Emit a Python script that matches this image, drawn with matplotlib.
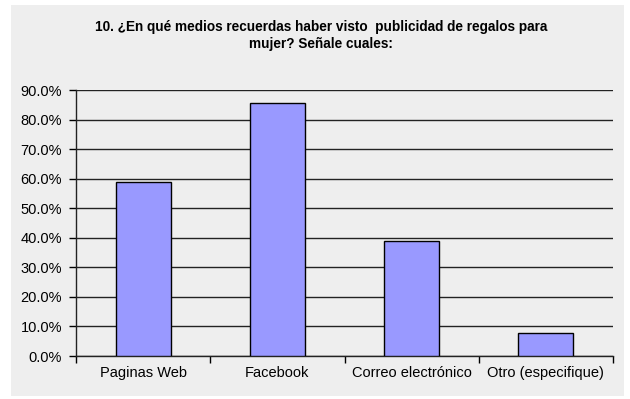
import matplotlib
matplotlib.use("Agg")
from matplotlib import pyplot as plt
from matplotlib.patches import Rectangle
from matplotlib.ticker import FuncFormatter

categories = ["Paginas Web", "Facebook", "Correo electrónico", "Otro (especifique)"]
values = [58.9, 85.6, 38.9, 7.8]
title = "10. ¿En qué medios recuerdas haber visto  publicidad de regalos para\nmujer? Señale cuales:"

plt.rcParams['font.family'] = ['Liberation Sans', 'DejaVu Sans']

fig = plt.figure(figsize=(6.3, 3.99), dpi=100)
fig.patch.set_facecolor('white')
fig.patches.append(Rectangle((11 / 630, 1 - 396 / 399), 613 / 630, 391 / 399,
                             transform=fig.transFigure, facecolor='#eeeeee',
                             edgecolor='none', zorder=-10))

ax = fig.add_axes([76 / 630, 1 - 356 / 399, 537 / 630, 266 / 399])
ax.set_facecolor('none')

x = list(range(len(categories)))
ax.bar(x, values, width=0.41, color='#9999ff', edgecolor='black', linewidth=1, zorder=3)

ax.set_xlim(-0.5, len(categories) - 0.5)
ax.set_ylim(0, 90)
ax.set_yticks(range(0, 91, 10))
ax.yaxis.set_major_formatter(FuncFormatter(lambda v, p: f"{v:.1f}%"))
ax.grid(axis='y', color='#222222', linewidth=1, zorder=1)

ax.set_xticks([i + 0.5 for i in range(-1, len(categories))])
ax.set_xticklabels([])
ax.set_xticks(x, minor=True)
ax.set_xticklabels(categories, minor=True)
ax.tick_params(axis='x', which='minor', length=0, labelsize=10.5, pad=7)
ax.tick_params(axis='x', which='major', length=5, direction='out', width=1)
ax.tick_params(axis='y', length=5, direction='out', labelsize=10.5, width=1, pad=5)

for s in ['top', 'right']:
    ax.spines[s].set_visible(False)
for s in ['left', 'bottom']:
    ax.spines[s].set_color('#222222')
    ax.spines[s].set_linewidth(1)

fig.text(0.51, 1 - 20 / 399, title, ha='center', va='top', fontsize=9.8,
         fontweight='bold', linespacing=1.25)

plt.savefig("out.png", dpi=100)
